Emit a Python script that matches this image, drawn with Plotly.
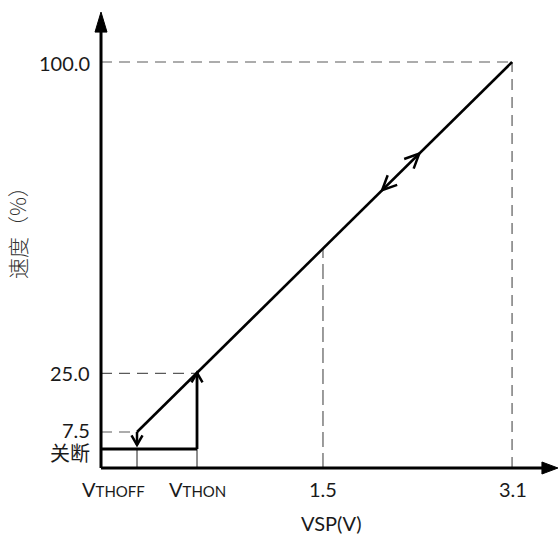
import numpy as np
import plotly.graph_objects as go

# ---- data (schematic positions, axis units) ----
x_tick_labels = ["V<span style='font-size:15px'>THOFF</span>",
                 "V<span style='font-size:15px'>THON</span>", "1.5", "3.1"]
x_tick_pos = [0.2715, 0.724, 1.674, 3.1]
y_tick_labels = ["关断", "7.5", "25.0", "100.0"]
y_tick_pos = [4.68, 8.87, 23.3, 100.0]

# speed characteristic (VTHOFF,7.5) -> (3.1,100)
curve_x = [0.2715, 3.1]
curve_y = [8.87, 100.0]
# down-arrow tip at VTHOFF, double arrows on the curve
off_tip_y = 5.67
mid_arrow_up_x = 2.40
mid_arrow_down_x = 2.12

x_title = "VSP(V)"
y_title = "速度（%）"

# ---- layout geometry ----
W, H = 559, 536
ML, MR, MT, MB = 90, 0, 4, 56
XR = [-0.083, 3.454]
YR = [-2.956, 114.29]
PW = W - ML - MR
PH = H - MT - MB
KX = PW / (XR[1] - XR[0])
KY = PH / (YR[1] - YR[0])
x_axis_end = 3.446
y_axis_end = 112.3

FONT = "Lato, 'Noto Sans CJK SC', sans-serif"
CJK_FONT = "'Noto Sans CJK SC', sans-serif"
TXT = "#1a1a1a"
DASH_C = "#5a5a5a"

fig = go.Figure()

def seg(xs, ys, color="black", width=2.2, dash=None):
    fig.add_trace(go.Scatter(x=xs, y=ys, mode="lines", hoverinfo="skip",
                             line=dict(color=color, width=width, dash=dash)))

off_y = y_tick_pos[0]
y75 = y_tick_pos[1]
y25 = y_tick_pos[2]
y100 = y_tick_pos[3]
vthoff, vthon, v15, v31 = x_tick_pos

# dashed guide lines
dash = "11px,7px"
seg([0, curve_x[1]], [y100, y100], DASH_C, 1.2, dash)
seg([v31, v31], [0, y100], DASH_C, 1.2, dash)
seg([0, vthon], [y25, y25], DASH_C, 1.2, dash)
seg([0, vthoff], [y75, y75], DASH_C, 1.2, dash)
y_at_15 = float(np.interp(v15, curve_x, curve_y))
seg([v15, v15], [0, y_at_15], DASH_C, 1.2, "15px,6px")

# small tick marks below the off level
seg([vthoff, vthoff], [0, off_y], "#333333", 1.1)
seg([vthon, vthon], [0, off_y], "#333333", 1.1)

# main characteristic
seg(curve_x, curve_y, "black", 2.6)
# off level, down step, up step
seg([0, vthon], [off_y, off_y], "black", 2.8)
seg([vthoff, vthoff], [curve_y[0], off_tip_y], "black", 2.5)
y_at_on = float(np.interp(vthon, curve_x, curve_y))
seg([vthon, vthon], [off_y, y_at_on], "black", 2.8)

# axes
seg([0, 0], [0, y_axis_end - 2.0], "black", 3)
seg([0, x_axis_end - 0.05], [0, 0], "black", 3)

shapes = []

def open_arrow(x, y, dx, dy, length, half_angle, width=2.5):
    n = np.hypot(dx, dy)
    ux, uy = dx / n, dy / n
    pts = []
    for s in (1, -1):
        a = np.radians(half_angle) * s
        bx = -ux * np.cos(a) + uy * np.sin(a)
        by = -ux * np.sin(a) - uy * np.cos(a)
        pts.append((bx * length, by * length))
    path = "M{:.2f},{:.2f} L0,0 L{:.2f},{:.2f}".format(pts[0][0], pts[0][1], pts[1][0], pts[1][1])
    shapes.append(dict(type="path", xref="x", yref="y", xsizemode="pixel", ysizemode="pixel",
                       xanchor=x, yanchor=y, path=path, layer="above",
                       line=dict(color="black", width=width)))

ddx = (curve_x[1] - curve_x[0]) * KX
ddy = (curve_y[1] - curve_y[0]) * KY
open_arrow(mid_arrow_up_x, float(np.interp(mid_arrow_up_x, curve_x, curve_y)), ddx, ddy, 16, 25)
open_arrow(mid_arrow_down_x, float(np.interp(mid_arrow_down_x, curve_x, curve_y)), -ddx, -ddy, 16, 25)
open_arrow(vthoff, off_tip_y, 0, -1, 11, 30)
open_arrow(vthon, y_at_on, 0, 1, 11, 30)

# filled axis arrowheads
shapes.append(dict(type="path", xref="x", yref="y", xsizemode="pixel", ysizemode="pixel",
                   xanchor=0, yanchor=y_axis_end, path="M0,0 L-6,-20 L6,-20 Z",
                   fillcolor="black", line=dict(color="black", width=1), layer="above"))
shapes.append(dict(type="path", xref="x", yref="y", xsizemode="pixel", ysizemode="pixel",
                   xanchor=x_axis_end, yanchor=0, path="M0,0 L-16,6 L-16,-6 Z",
                   fillcolor="black", line=dict(color="black", width=1), layer="above"))

annotations = []
# y labels
y_shifts = [-4, 2, 0, -1]
for lab, pos, sh in zip(y_tick_labels, y_tick_pos, y_shifts):
    annotations.append(dict(x=0, y=pos, xref="x", yref="y", text=lab, showarrow=False,
                            xanchor="right", yanchor="middle", xshift=-9, yshift=sh,
                            font=dict(family=FONT, size=20, color=TXT)))
# x labels
x_shifts = [-24, 0, 0, 1]
for lab, pos, sh in zip(x_tick_labels, x_tick_pos, x_shifts):
    annotations.append(dict(x=pos, y=0, xref="x", yref="y", text=lab, showarrow=False,
                            xanchor="center", yanchor="middle", xshift=sh, yshift=-21,
                            font=dict(family=FONT, size=20, color=TXT)))
annotations.append(dict(x=1.735, y=0, xref="x", yref="y", text=x_title, showarrow=False,
                        xanchor="center", yanchor="middle", yshift=-55,
                        font=dict(family=FONT, size=20, color=TXT)))
annotations.append(dict(x=(17 - ML) / PW, y=(H - MB - 228) / PH, xref="paper", yref="paper",
                        text=y_title, showarrow=False, textangle=-90,
                        xanchor="center", yanchor="middle",
                        font=dict(family=CJK_FONT, size=21, color="#333333", weight=300)))

fig.update_layout(
    width=W, height=H, margin=dict(l=ML, r=MR, t=MT, b=MB),
    paper_bgcolor="white", plot_bgcolor="white", showlegend=False,
    xaxis=dict(range=XR, visible=False, fixedrange=True),
    yaxis=dict(range=YR, visible=False, fixedrange=True),
    shapes=shapes, annotations=annotations,
)

fig.write_html("out.html", config={"displayModeBar": False},
               post_script="document.body.style.margin='0';document.body.style.overflow='hidden';")
